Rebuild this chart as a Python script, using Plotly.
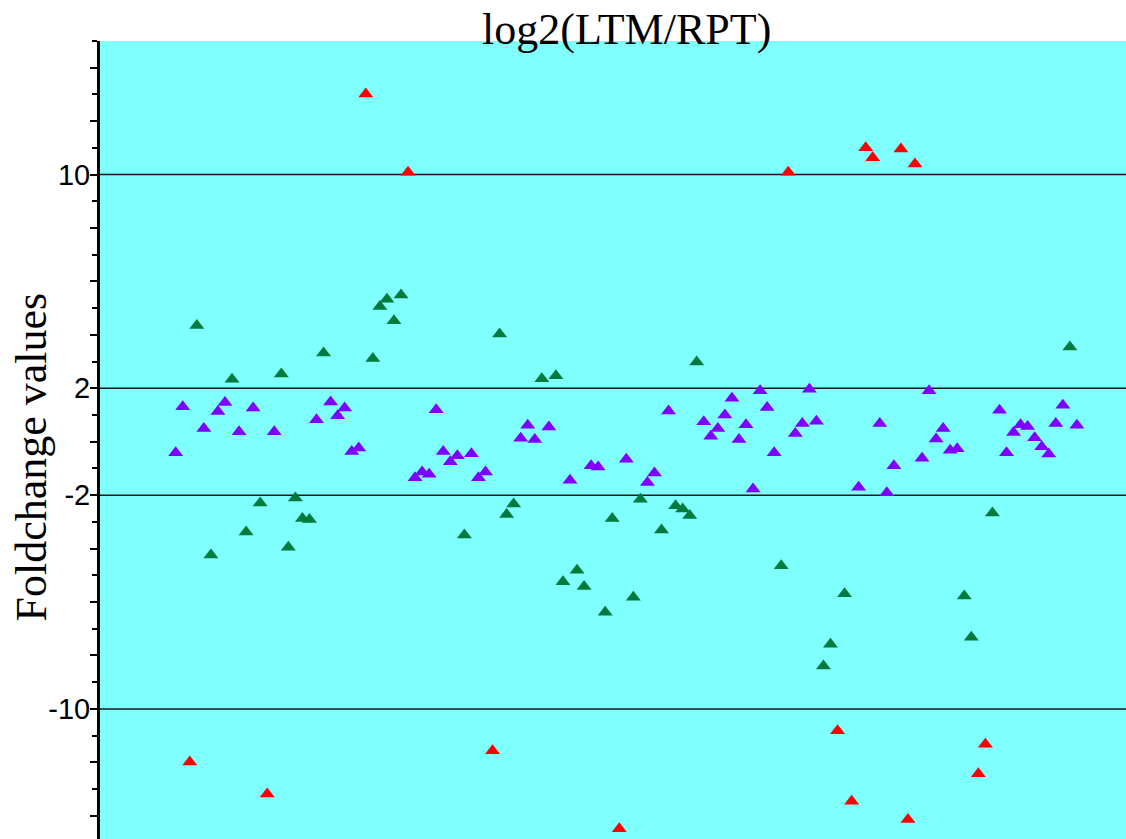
import plotly.graph_objects as go

# ---- data (sample index, log2 fold change) ----
red_idx = [2, 13, 27, 33, 45, 63, 87, 94, 96, 98, 99, 103, 104, 105, 114, 115]
red_val = [-11.99, -13.19, 13.02, 10.09, -11.57, -14.49, 10.09, -10.82, -13.46,
           11.0, 10.63, 10.96, -14.14, 10.40, -12.43, -11.32]

green_idx = [3, 5, 8, 10, 12, 15, 16, 17, 18, 19, 21, 28, 29, 30, 31, 32, 41, 46,
             47, 48, 52, 54, 55, 57, 58, 61, 62, 65, 66, 69, 71, 72, 73, 74, 86,
             92, 93, 95, 112, 113, 116, 127]
green_val = [4.35, -4.24, 2.34, -3.38, -2.29, 2.54, -3.95, -2.11, -2.87, -2.91,
             3.32, 3.12, 5.06, 5.33, 4.53, 5.49, -3.49, 4.03, -2.72, -2.33, 2.36,
             2.47, -5.24, -4.81, -5.42, -6.38, -2.87, -5.82, -2.15, -3.30, -2.40,
             -2.52, -2.76, 2.98, -4.64, -8.39, -7.58, -5.69, -5.77, -7.32, -2.67,
             3.55]

purple_idx = [0, 1, 4, 6, 7, 9, 11, 14, 20, 22, 23, 24, 25, 26, 34, 35, 36, 37,
              38, 39, 40, 42, 43, 44, 49, 50, 51, 53, 56, 59, 60, 64, 67, 68, 70,
              75, 76, 77, 78, 79, 80, 81, 82, 83, 84, 85, 88, 89, 90, 91, 97, 100,
              101, 102, 106, 107, 108, 109, 110, 111, 117, 118, 119, 120, 121, 122,
              123, 124, 125, 126, 128]
purple_val = [-0.41, 1.31, 0.50, 1.13, 1.47, 0.37, 1.26, 0.37, 0.82, 1.49, 0.97,
              1.26, -0.37, -0.23, -1.35, -1.13, -1.22, 1.20, -0.37, -0.75, -0.52,
              -0.45, -1.35, -1.13, 0.13, 0.62, 0.08, 0.55, -1.44, -0.90, -0.95,
              -0.66, -1.53, -1.17, 1.15, 0.75, 0.21, 0.50, 1.00, 1.63, 0.08, 0.64,
              -1.77, 1.91, 1.28, -0.41, 0.31, 0.68, 1.96, 0.77, -1.70, 0.68, -1.91,
              -0.90, -0.62, 1.91, 0.10, 0.50, -0.32, -0.26, 1.18, -0.41, 0.35, 0.64,
              0.57, 0.15, -0.19, -0.46, 0.68, 1.37, 0.62]

major_ticks = list(range(-14, 16, 2))
minor_ticks = list(range(-15, 16, 2))
labeled_ticks = [-10, -2, 2, 10]
grid_values = [-10, -2, 2, 10]
y_range = [-14.87, 15.0]
x_range = [-10.75, 134.97]

series = [
    (purple_idx, purple_val, "#8000FF"),
    (green_idx, green_val, "#007A3D"),
    (red_idx, red_val, "#FF0000"),
]

fig = go.Figure()
for idx, val, col in series:
    fig.add_trace(go.Scatter(
        x=idx, y=val, mode="markers", showlegend=False,
        marker=dict(symbol="triangle-up", size=13, color=col, line=dict(width=0)),
    ))

# horizontal reference lines at the labelled values
for g in grid_values:
    fig.add_hline(y=g, line=dict(color="#1a1a1a", width=1.5), layer="below")

fig.update_layout(
    width=1126, height=839,
    margin=dict(l=100, r=0, t=41, b=0),
    paper_bgcolor="white",
    plot_bgcolor="#80FFFF",
    xaxis=dict(range=x_range, visible=False),
    yaxis=dict(
        range=y_range,
        tickmode="array",
        tickvals=major_ticks,
        ticktext=[str(v) if v in labeled_ticks else "" for v in major_ticks],
        ticks="outside", ticklen=7, tickwidth=2, tickcolor="black",
        showline=True, linewidth=3, linecolor="black",
        showgrid=False, zeroline=False,
        ticklabelstandoff=-6,
        tickfont=dict(family="Liberation Sans, Arial", size=29, color="black"),
        minor=dict(tickmode="array", tickvals=minor_ticks, ticks="outside",
                   ticklen=5, tickwidth=2, tickcolor="black", showgrid=False),
    ),
    annotations=[
        dict(text="log2(LTM/RPT)", xref="paper", yref="paper",
             x=0.5136, y=1.015, xanchor="center", yanchor="middle",
             showarrow=False,
             font=dict(family="Liberation Serif, Times New Roman", size=44, color="black")),
        dict(text="Foldchange values", xref="paper", yref="paper",
             x=-0.0663, y=0.4793, xanchor="center", yanchor="middle",
             textangle=-90, showarrow=False,
             font=dict(family="Liberation Serif, Times New Roman", size=44, color="black")),
    ],
)

fig.write_html("out.html")
